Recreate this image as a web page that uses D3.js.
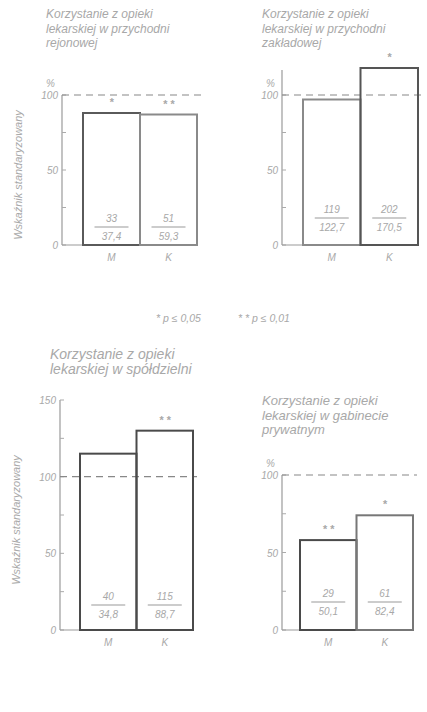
<!DOCTYPE html>
<html><head><meta charset="utf-8">
<script src="https://cdn.jsdelivr.net/npm/d3@7"></script>
<style>
html,body{margin:0;padding:0;background:#fff;}
svg{display:block;}
text{font-family:"Liberation Sans",Arial,sans-serif;font-style:italic;fill:#a8a8a8;}
</style></head>
<body>
<script>
// ---- data ----
const categories = ["M", "K"];
const panelTitles = [
  ["Korzystanie z opieki", "lekarskiej w przychodni", "rejonowej"],
  ["Korzystanie z opieki", "lekarskiej w przychodni", "zakładowej"],
  ["Korzystanie z opieki", "lekarskiej w spółdzielni"],
  ["Korzystanie z opieki", "lekarskiej w gabinecie", "prywatnym"]
];
const rejonowaValues = [88, 87];
const zakladowaValues = [97, 118];
const spoldzielniaValues = [115, 130];
const prywatnyValues = [58, 74];
const rejonowaObserved = ["33", "51"];
const rejonowaExpected = ["37,4", "59,3"];
const zakladowaObserved = ["119", "202"];
const zakladowaExpected = ["122,7", "170,5"];
const spoldzielniaObserved = ["40", "115"];
const spoldzielniaExpected = ["34,8", "88,7"];
const prywatnyObserved = ["29", "61"];
const prywatnyExpected = ["50,1", "82,4"];
const rejonowaStars = ["*", "* *"];
const zakladowaStars = ["", "*"];
const spoldzielniaStars = ["", "* *"];
const prywatnyStars = ["* *", "*"];
const ticks100 = [0, 50, 100];
const ticks150 = [0, 50, 100, 150];
const legendItems = ["* p ≤ 0,05", "* * p ≤ 0,01"];
const yAxisTitle = "Wskaźnik standaryzowany";
const referenceLevel = 100;

// ---- layout ----
const svg = d3.select("body").append("svg").attr("width", 427).attr("height", 712);

const panels = [
  {values: rejonowaValues, obs: rejonowaObserved, exp: rejonowaExpected, stars: rejonowaStars, title: panelTitles[0],
   ax: 62, y0: 245, yTop: 95, max: 100, ticks: ticks100, x0: 83, x1: 197, axisTop: 95,
   tx: 46, ty: 18, tfs: 12, pct: true, ylabel: true, ylx: 22, stroke: ["#5a5a5a", "#8a8a8a"], fracY: 222},
  {values: zakladowaValues, obs: zakladowaObserved, exp: zakladowaExpected, stars: zakladowaStars, title: panelTitles[1],
   ax: 282, y0: 245, yTop: 95, max: 100, ticks: ticks100, x0: 303, x1: 418, axisTop: 70,
   tx: 262, ty: 18, tfs: 12, pct: true, ylabel: false, stroke: ["#8a8a8a", "#555"], fracY: 213},
  {values: spoldzielniaValues, obs: spoldzielniaObserved, exp: spoldzielniaExpected, stars: spoldzielniaStars, title: panelTitles[2],
   ax: 60, y0: 630, yTop: 400, max: 150, ticks: ticks150, x0: 80, x1: 193, axisTop: 400,
   tx: 50, ty: 359, tfs: 14, pct: false, ylabel: true, ylx: 20, stroke: ["#4a4a4a", "#4a4a4a"], fracY: 600},
  {values: prywatnyValues, obs: prywatnyObserved, exp: prywatnyExpected, stars: prywatnyStars, title: panelTitles[3],
   ax: 282, y0: 630, yTop: 475, max: 100, ticks: ticks100, x0: 300, x1: 413, axisTop: 475,
   tx: 262, ty: 405, tfs: 13, pct: true, ylabel: false, stroke: ["#4a4a4a", "#777"], fracY: 597}
];

panels.forEach(p => {
  const g = svg.append("g");
  const y = d3.scaleLinear().domain([0, p.max]).range([p.y0, p.yTop]);
  const x = d3.scaleBand().domain(categories).range([p.x0, p.x1]).padding(0);

  // title
  p.title.forEach((line, i) => {
    g.append("text").attr("x", p.tx).attr("y", p.ty + i * 14.5).attr("font-size", p.tfs).text(line);
  });

  // axis
  g.append("line").attr("x1", p.ax).attr("x2", p.ax).attr("y1", Math.min(p.axisTop, y(p.max))).attr("y2", p.y0)
    .attr("stroke", "#9a9a9a").attr("stroke-width", 1.2);
  const minor = d3.range(0, p.max + 1, 25);
  g.selectAll(".mt").data(minor).join("line")
    .attr("x1", p.ax).attr("x2", p.ax + 4).attr("y1", d => y(d)).attr("y2", d => y(d))
    .attr("stroke", "#aaa").attr("stroke-width", 1);
  g.selectAll(".tl").data(p.ticks).join("text")
    .attr("x", p.ax - 4).attr("y", d => y(d) + 4).attr("text-anchor", "end").attr("font-size", 10)
    .text(d => d);
  if (p.pct) g.append("text").attr("x", p.ax - 16).attr("y", y(p.max) - 8).attr("font-size", 10).text("%");

  if (p.ylabel) {
    g.append("text").attr("transform", `translate(${p.ylx},${(p.y0 + y(p.max)) / 2 + 5}) rotate(-90)`)
      .attr("text-anchor", "middle").attr("font-size", 11).text(yAxisTitle);
  }

  // baseline
  g.append("line").attr("x1", p.ax).attr("x2", p.x1).attr("y1", p.y0).attr("y2", p.y0)
    .attr("stroke", "#9a9a9a").attr("stroke-width", 1.2);

  // dashed reference line
  g.append("line").attr("x1", p.ax).attr("x2", p.x1 + 4).attr("y1", y(referenceLevel)).attr("y2", y(referenceLevel))
    .attr("stroke", "#888").attr("stroke-width", 1.1).attr("stroke-dasharray", "7,5");

  // bars
  g.selectAll(".bar").data(p.values).join("rect")
    .attr("x", (d, i) => x(categories[i])).attr("width", x.bandwidth())
    .attr("y", d => y(d)).attr("height", d => p.y0 - y(d))
    .attr("fill", "none").attr("stroke", (d, i) => p.stroke[i]).attr("stroke-width", 2);

  // stars
  g.selectAll(".st").data(p.stars).join("text")
    .attr("x", (d, i) => x(categories[i]) + x.bandwidth() / 2).attr("y", (d, i) => y(p.values[i]) - 7)
    .attr("text-anchor", "middle").attr("font-size", 11).attr("font-weight", "bold").attr("fill", "#777")
    .text(d => d);

  // fractions
  categories.forEach((c, i) => {
    const cx = x(c) + x.bandwidth() / 2;
    g.append("text").attr("x", cx).attr("y", p.fracY).attr("text-anchor", "middle").attr("font-size", 10).text(p.obs[i]);
    g.append("line").attr("x1", cx - 17).attr("x2", cx + 17).attr("y1", p.fracY + 5).attr("y2", p.fracY + 5)
      .attr("stroke", "#999").attr("stroke-width", 1);
    g.append("text").attr("x", cx).attr("y", p.fracY + 18).attr("text-anchor", "middle").attr("font-size", 10).text(p.exp[i]);
    g.append("text").attr("x", cx).attr("y", p.y0 + 16).attr("text-anchor", "middle").attr("font-size", 10).text(c);
  });
});

// legend
svg.append("text").attr("x", 156).attr("y", 322).attr("font-size", 10.5).text(legendItems[0]);
svg.append("text").attr("x", 238).attr("y", 322).attr("font-size", 10.5).text(legendItems[1]);
</script>
</body></html>
